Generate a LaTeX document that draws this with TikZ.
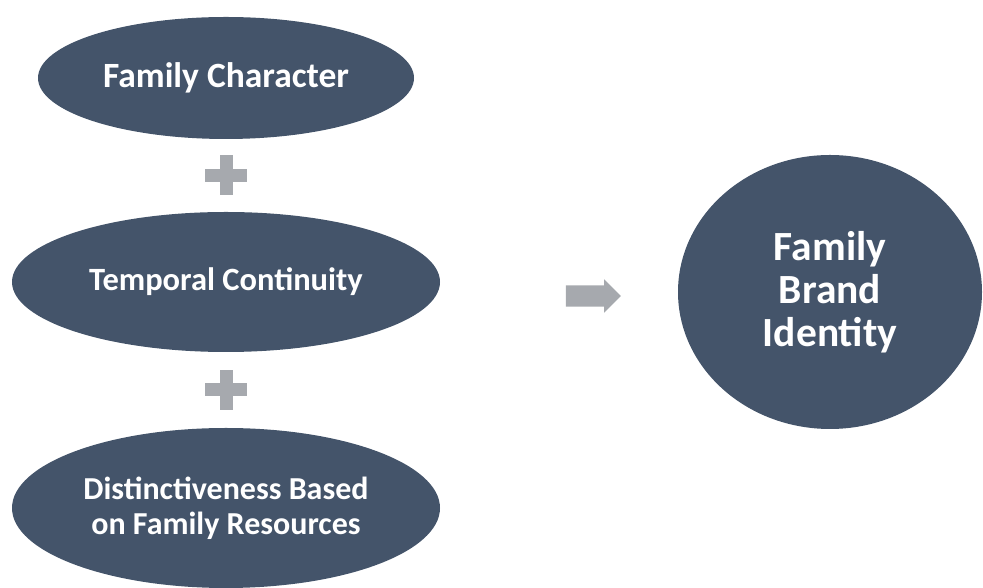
\documentclass[tikz,border=0pt]{standalone}
\usepackage{fontspec}
\setmainfont{Carlito}
\usetikzlibrary{shapes.geometric,shapes.arrows}

\definecolor{slate}{HTML}{44546A}
\definecolor{plusgray}{RGB}{166,169,174}

\begin{document}
\begin{tikzpicture}[
  x=1pt, y=1pt,
  fam/.style={ellipse, fill=slate, text=white, inner sep=0pt, align=center, font=\fontsize{32.5}{35}\selectfont\bfseries},
  idnode/.style={ellipse, fill=slate, text=white, inner sep=0pt, align=center, minimum width=304pt, minimum height=274pt, font=\fontsize{41.5}{43}\selectfont\bfseries},
  blockarw/.style={single arrow, fill=plusgray, inner xsep=0pt, inner ysep=10.5pt, minimum height=55pt, single arrow head extend=6pt}
  ]

\useasboundingbox (0,0) rectangle (983,588);

\node [fam, minimum width=376pt, minimum height=122pt, font=\fontsize{35.5}{38}\selectfont\bfseries] (e1) at (226,510) {Family Character};
\node [fam, minimum width=428pt, minimum height=140pt, node distance=204pt, below of=e1] (e2) {Temporal Continuity};
\node [fam, minimum width=428pt, minimum height=160pt, node distance=226pt, below of=e2, font=\fontsize{32}{35}\selectfont\bfseries] (e3) {Distinctiveness Based\\on Family Resources};

\node [idnode] (fbi) at (830,296) {Family\\Brand\\Identity};
\node [blockarw] (arr) at (588,292) {};

\path (e1) -- coordinate[midway] (p1) (e2);
\path (e2) -- coordinate[midway] (p2) (e3);

\foreach \p in {p1,p2} {
  \fill [plusgray] (\p) ++(-21,-6.5) rectangle ++(42,13);
  \fill [plusgray] (\p) ++(-6.5,-20) rectangle ++(13,40);
}

\end{tikzpicture}
\end{document}
